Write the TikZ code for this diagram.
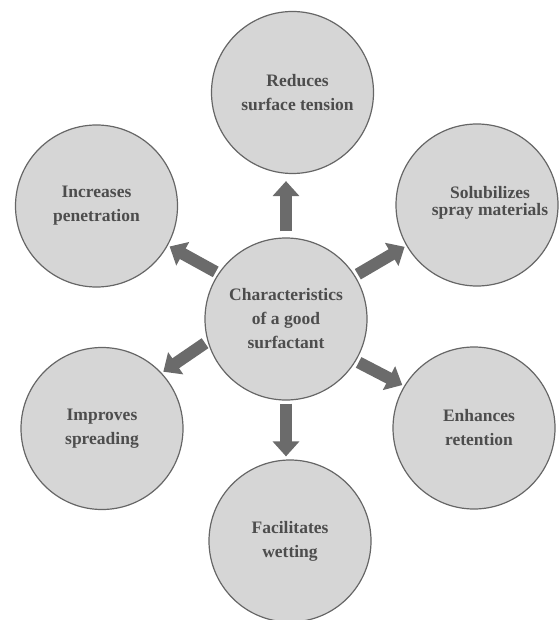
\documentclass[tikz,border=0pt]{standalone}
\usepackage{fontspec}
\setmainfont{Liberation Serif}
\usetikzlibrary{arrows.meta}
\definecolor{bubblefill}{HTML}{D6D6D6}
\definecolor{bubbleline}{HTML}{666666}
\definecolor{arrowgray}{HTML}{6B6B6B}
\definecolor{textgray}{HTML}{4D4D4D}
\tikzset{
  bubble/.style={circle, draw=bubbleline, line width=1.2pt, fill=bubblefill, minimum size=162pt, inner sep=0pt, align=center, text=textgray, font=\fontsize{17.5}{24}\selectfont\bfseries},
  tag/.style={align=center, text=textgray, inner sep=0pt, font=\fontsize{17.5}{24}\selectfont\bfseries},
  bigarrow/.style={arrowgray, line width=12pt, -{Triangle[width=26pt,length=15pt]}}
}
\begin{document}
\begin{tikzpicture}[x=1pt, y=-1pt]
  \useasboundingbox (0,0) rectangle (558,620);

  \node[bubble] (core) at (286, 319) {Characteristics\\of a good\\surfactant};
  \node[bubble] (tension) at (292.5, 92.5) {\hspace*{10pt}Reduces\\\hspace*{10pt}surface tension};
  \node[bubble] (penetr) at (96.5, 206) {Increases\\penetration};
  \node[bubble] (solub) at (477, 205) {};
  \node[tag] (solubtxt) at ([xshift=13pt, yshift=2pt]solub) {Solubilizes\\[-7pt]spray materials};
  \node[bubble] (spread) at (102, 428.5) {Improves\\spreading};
  \node[bubble] (retent) at (474, 428) {\hspace*{10pt}Enhances\\\hspace*{10pt}retention};
  \node[bubble] (wetting) at (290, 541) {Facilitates\\wetting};

  \draw[bigarrow, shorten <=6pt, shorten >=7pt] (core.north) -- (core.north |- tension.south);
  \draw[bigarrow, shorten <=3pt, shorten >=3pt] (core.south) -- (core.south |- wetting.north);
  \draw[bigarrow, shorten <=3pt, shorten >=2pt] (core.146.5) -- (penetr.331);
  \draw[bigarrow, shorten <=3pt, shorten >=2pt] (core.32.6) -- (solub.210.8);
  \draw[bigarrow, shorten <=3pt, shorten >=2pt] (core.196) -- (spread.43);
  \draw[bigarrow, shorten <=3pt, shorten >=2pt] (core.329) -- (retent.149.3);
\end{tikzpicture}
\end{document}
